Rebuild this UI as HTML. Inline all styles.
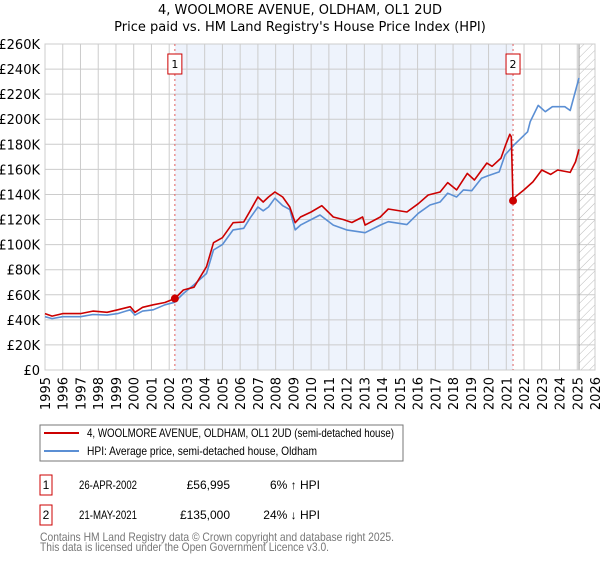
<!DOCTYPE html>
<html><head><meta charset="utf-8"><style>
body{margin:0;background:#fff;font-family:"Liberation Sans","DejaVu Sans",sans-serif;}
svg text{font-family:"DejaVu Sans","Liberation Sans",sans-serif;}
svg text.lib{font-family:"Liberation Sans","DejaVu Sans",sans-serif;}
</style></head><body>
<svg id="chart" width="600" height="560" viewBox="0 0 600 560">
<defs><pattern id="hatch" width="6" height="6" patternUnits="userSpaceOnUse" patternTransform="rotate(45)"><line x1="0" y1="0" x2="0" y2="6" stroke="#bbb" stroke-width="1"/></pattern></defs>
<text x="300" y="14" text-anchor="middle" font-size="13" fill="#000">4, WOOLMORE AVENUE, OLDHAM, OL1 2UD</text>
<text x="300" y="31" text-anchor="middle" font-size="13" fill="#000">Price paid vs. HM Land Registry's House Price Index (HPI)</text>
<g id="plot"></g>
<g>
<rect x="40" y="425" width="363" height="36" fill="#fff" stroke="#777"/>
<line x1="44" y1="433" x2="79" y2="433" stroke="#cc0000" stroke-width="2"/>
<text class="lib" x="87" y="437" font-size="12" textLength="307" lengthAdjust="spacingAndGlyphs">4, WOOLMORE AVENUE, OLDHAM, OL1 2UD (semi-detached house)</text>
<line x1="44" y1="451" x2="79" y2="451" stroke="#5b8fd4" stroke-width="2"/>
<text class="lib" x="87" y="455" font-size="12" textLength="230" lengthAdjust="spacingAndGlyphs">HPI: Average price, semi-detached house, Oldham</text>
</g>
<g>
<rect x="40" y="475" width="12" height="20" fill="#fff" stroke="#cc0000"/>
<text class="lib" x="46" y="489" font-size="12" text-anchor="middle">1</text>
<text class="lib" x="79" y="489" font-size="12" textLength="58" lengthAdjust="spacingAndGlyphs">26-APR-2002</text>
<text class="lib" x="230" y="489" font-size="12" text-anchor="end">£56,995</text>
<text class="lib" x="320" y="489" font-size="12" text-anchor="end">6% ↑ HPI</text>
<rect x="40" y="505" width="12" height="20" fill="#fff" stroke="#cc0000"/>
<text class="lib" x="46" y="519" font-size="12" text-anchor="middle">2</text>
<text class="lib" x="79" y="519" font-size="12" textLength="58" lengthAdjust="spacingAndGlyphs">21-MAY-2021</text>
<text class="lib" x="230" y="519" font-size="12" text-anchor="end">£135,000</text>
<text class="lib" x="320" y="519" font-size="12" text-anchor="end">24% ↓ HPI</text>
</g>
<text class="lib" x="40" y="541" font-size="12" fill="#777" textLength="354" lengthAdjust="spacingAndGlyphs">Contains HM Land Registry data © Crown copyright and database right 2025.</text>
<text class="lib" x="40" y="551" font-size="12" fill="#777" textLength="289" lengthAdjust="spacingAndGlyphs">This data is licensed under the Open Government Licence v3.0.</text>
</svg>
<script>
const yearTicks=[1995,1996,1997,1998,1999,2000,2001,2002,2003,2004,2005,2006,2007,2008,2009,2010,2011,2012,2013,2014,2015,2016,2017,2018,2019,2020,2021,2022,2023,2024,2025,2026];
const valueTicks=[0,20,40,60,80,100,120,140,160,180,200,220,240,260];
const hpiYears=[1995.0,1995.4,1996.0,1997.0,1997.7,1998.5,1999.1,1999.8,2000.07,2000.5,2001.1,2001.76,2002.3,2002.8,2003.4,2004.1,2004.5,2005.0,2005.6,2006.2,2006.55,2007.0,2007.3,2007.6,2007.96,2008.4,2008.8,2009.1,2009.4,2010.5,2011.25,2012.0,2013.04,2013.9,2014.35,2015.4,2016.04,2016.7,2017.27,2017.7,2018.2,2018.58,2019.05,2019.6,2019.97,2020.6,2020.93,2021.4,2022.2,2022.35,2022.8,2023.2,2023.6,2024.3,2024.6,2025.1];
const hpiValues=[42.5,41,42.5,42.5,44.3,43.8,45,48,43.8,47,48,52,54,61,68,77,95.7,100,111.7,113,121,130,127,130,137,131,128,111.7,115.6,123.6,115.6,111.7,109.5,115.6,118.3,116,125,131.6,134,141,138,143.6,143,153,155,158,171.5,179,190,198,211,206,210,210,207,233];
const priceYears=[1995.0,1995.4,1996.0,1997.0,1997.7,1998.5,1999.1,1999.8,2000.07,2000.5,2001.1,2001.76,2002.32,2002.8,2003.4,2004.1,2004.5,2005.0,2005.6,2006.2,2006.55,2007.0,2007.3,2007.6,2007.96,2008.4,2008.8,2009.1,2009.4,2010.0,2010.6,2011.25,2011.8,2012.3,2012.9,2013.04,2013.9,2014.35,2015.4,2016.04,2016.6,2017.27,2017.7,2018.2,2018.8,2019.2,2019.9,2020.2,2020.7,2020.95,2021.2,2021.28,2021.38,2021.5,2022.0,2022.5,2023.0,2023.5,2023.9,2024.6,2024.9,2025.1];
const priceValues=[45,43,45,45,47,46,48,50.5,46,50,52,53.8,57,63.8,66,82.4,101.5,105.5,117.5,118,126.6,138,134,138,142,138,130,117.5,122,126,131,122,120,117.6,122,115.6,122,128.4,126,132.6,139.6,142,149.5,143.6,156.8,151.5,165,162.5,169,179,188,186,135,138,143.6,150,159.5,156,159.5,157.6,166,176];
const saleYears=[2002.32,2021.38];
const saleValues=[56.995,135];
const saleLabels=["1","2"];
const shadeRange=[2002.32,2021.38];
const forecastStart=2025.1;

const L=45,R=595,T=44,B=370,y0=1995,y1=2026,vmax=260;
const X=y=>L+(y-y0)/(y1-y0)*(R-L);
const Y=v=>B-v/vmax*(B-T);
const NS='http://www.w3.org/2000/svg';
const g=document.getElementById('plot');
function mk(tag,attrs,parent){const e=document.createElementNS(NS,tag);for(const k in attrs)e.setAttribute(k,attrs[k]);(parent||g).appendChild(e);return e;}

let e=mk('rect',{x:X(shadeRange[0]),y:T,width:X(shadeRange[1])-X(shadeRange[0]),height:B-T,fill:'#eef3fc'});


e=mk('rect',{x:X(forecastStart),y:T,width:R-X(forecastStart),height:B-T,fill:'url(#hatch)'});



yearTicks.forEach(yr=>{
  const x=X(yr);
  let l=mk('line',{x1:x,y1:T,x2:x,y2:B,stroke:'#ccc','stroke-width':1});
  
  
  let t=mk('text',{x:0,y:0,'font-size':13,'text-anchor':'end',transform:`translate(${x+5},${B+7}) rotate(-90)`});
  t.textContent=yr;
  
  
});
valueTicks.forEach(v=>{
  const y=Y(v);
  let l=mk('line',{x1:L,y1:y,x2:R,y2:y,stroke:'#ccc','stroke-width':1});
  
  
  let t=mk('text',{x:40,y:y+5,'font-size':13,'text-anchor':'end'});
  t.textContent=v===0?'£0':'£'+v+'K';
  
  
});
e=mk('line',{x1:X(forecastStart),y1:T,x2:X(forecastStart),y2:B,stroke:'#999','stroke-width':1});


e=mk('rect',{x:L,y:T,width:R-L,height:B-T,fill:'none',stroke:'#ccc'});



saleYears.forEach((yr,i)=>{
  let l=mk('line',{x1:X(yr),y1:T,x2:X(yr),y2:B,stroke:'#e06060','stroke-width':1,'stroke-dasharray':'2,3'});
  
  
});

const pts=(xs,vs)=>xs.map((x,i)=>X(x).toFixed(1)+','+Y(vs[i]).toFixed(1)).join(' ');
e=mk('polyline',{points:pts(hpiYears,hpiValues),fill:'none',stroke:'#5b8fd4','stroke-width':1.6,'stroke-linejoin':'round'});


e=mk('polyline',{points:pts(priceYears,priceValues),fill:'none',stroke:'#cc0000','stroke-width':1.6,'stroke-linejoin':'round'});



saleYears.forEach((yr,i)=>{
  let c=mk('circle',{cx:X(yr),cy:Y(saleValues[i]),r:4,fill:'#cc0000'});
  
  
  let r=mk('rect',{x:X(yr)-7,y:54,width:14,height:20,fill:'#fff',stroke:'#cc0000'});
  
  
  let t=mk('text',{x:X(yr),y:68,'font-size':11,'text-anchor':'middle'});
  t.textContent=saleLabels[i];
  
  
});
</script>
</body></html>
